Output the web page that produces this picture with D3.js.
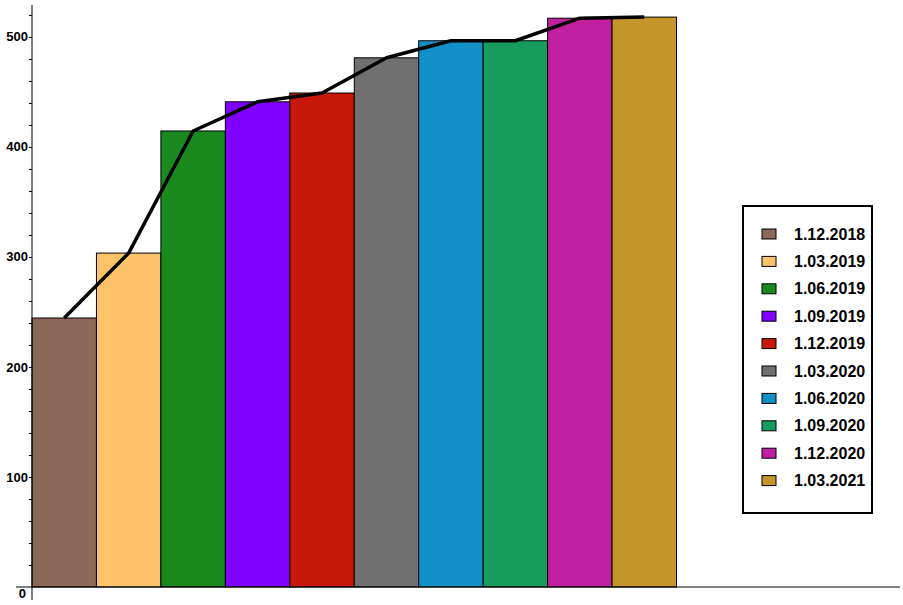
<!DOCTYPE html>
<html><head><meta charset="utf-8">
<script src="https://cdn.jsdelivr.net/npm/d3@7/dist/d3.min.js"></script>
<style>body{margin:0;background:#fff}svg{display:block}</style>
</head><body><svg id="c" width="903" height="605"></svg>
<script>
const categories = ["1.12.2018","1.03.2019","1.06.2019","1.09.2019","1.12.2019","1.03.2020","1.06.2020","1.09.2020","1.12.2020","1.03.2021"];
const values = [244.5, 303.5, 414.5, 441, 449, 481, 496.5, 496.5, 517, 518];
const colors = ["#8C6858","#FDC36B","#1A8A1F","#8000FF","#C8180A","#707070","#1390C8","#179C60","#C020A0","#C4952A"];
const majorTicks = [0,100,200,300,400,500];

const svg = d3.select("#c");
const x0 = 32, plotW = 644.5;
const x = d3.scaleBand().domain(categories).range([x0, x0 + plotW]).padding(0);
const y = d3.scaleLinear().domain([0, 529]).range([587, 5]);

// bars
svg.append("g").selectAll("rect").data(categories).join("rect")
  .attr("x", d => x(d)).attr("y", (d,i) => y(values[i]))
  .attr("width", x.bandwidth()).attr("height", (d,i) => y(0) - y(values[i]))
  .attr("fill", (d,i) => colors[i]).attr("stroke", "#000").attr("stroke-width", 1);

// line
const line = d3.line().x((d,i) => x(categories[i]) + x.bandwidth()/2).y(d => y(d));
svg.append("path").datum(values).attr("d", line)
  .attr("fill", "none").attr("stroke", "#000").attr("stroke-width", 3.5).attr("stroke-linejoin", "round");

// axes
svg.append("line").attr("x1", 16).attr("x2", 900).attr("y1", y(0)).attr("y2", y(0)).attr("stroke", "#000");
svg.append("line").attr("x1", x0).attr("x2", x0).attr("y1", 5).attr("y2", 600).attr("stroke", "#000");

const yAxis = d3.axisLeft(y).tickValues(d3.range(20, 529, 20)).tickSize(3).tickFormat("");
const ga = svg.append("g").attr("transform", `translate(${x0},0)`).call(yAxis);
ga.select(".domain").remove();
ga.selectAll(".tick line").attr("stroke", "#000");

svg.append("g").selectAll("text").data(majorTicks.filter(v => v > 0)).join("text")
  .attr("x", 28).attr("y", d => y(d)).attr("dy", "0.35em").attr("text-anchor", "end")
  .attr("font-family", "Liberation Sans, Arial, sans-serif").attr("font-size", 13).attr("font-weight", "bold")
  .text(d => d);
svg.append("text").attr("x", 26).attr("y", 593).attr("dy", "0.35em").attr("text-anchor", "end")
  .attr("font-family", "Liberation Sans, Arial, sans-serif").attr("font-size", 13).attr("font-weight", "bold").text("0");

// legend
const lg = svg.append("g");
lg.append("rect").attr("x", 743).attr("y", 206).attr("width", 129).attr("height", 307)
  .attr("fill", "#fff").attr("stroke", "#000").attr("stroke-width", 2);
const items = lg.selectAll("g.it").data(categories).join("g").attr("class", "it")
  .attr("transform", (d,i) => `translate(0,${234 + i*27.4})`);
items.append("rect").attr("x", 762).attr("y", -5).attr("width", 14).attr("height", 10)
  .attr("fill", (d,i) => colors[i]).attr("stroke", "#000").attr("stroke-width", 1);
items.append("text").attr("x", 794).attr("y", 0).attr("dy", "0.35em")
  .attr("font-family", "Liberation Sans, Arial, sans-serif").attr("font-size", 16).attr("font-weight", "bold").text(d => d);
</script></body></html>
